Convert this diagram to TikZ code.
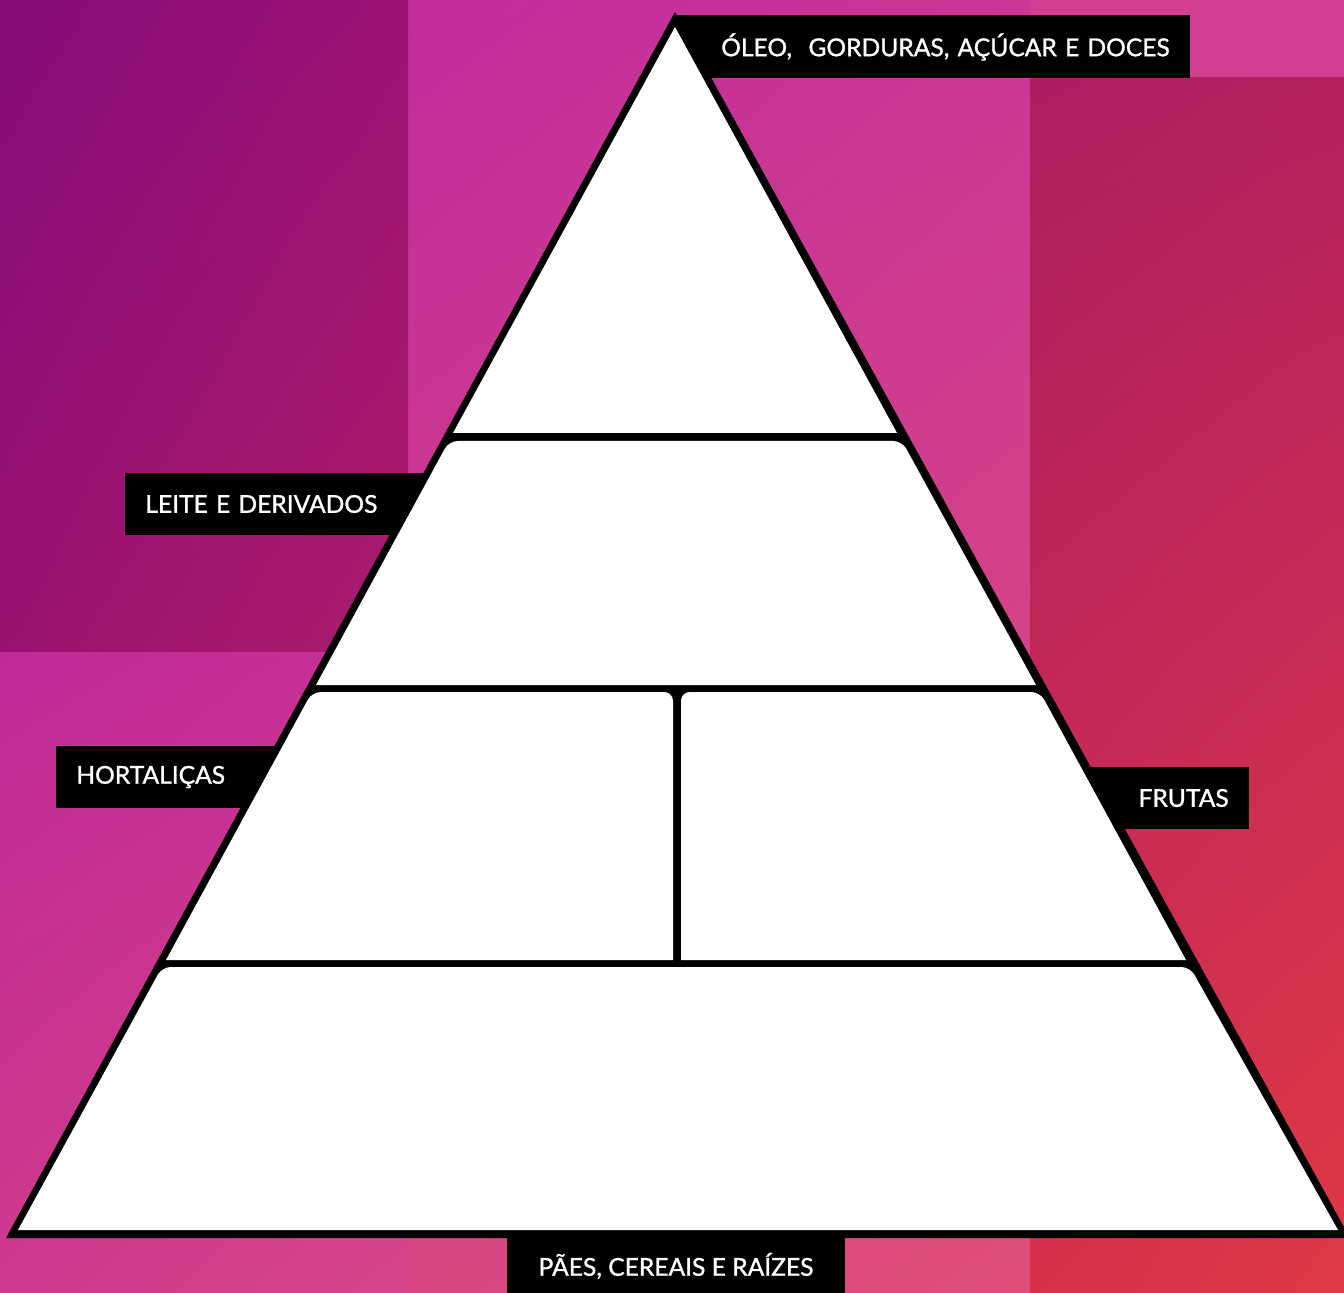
\documentclass[tikz,border=0pt]{standalone}
\usepackage{fontspec}
\setmainfont{Lato}
\newfontfamily\tagfont{Lato}[FakeBold=1.2]
\usetikzlibrary{shadings}
\definecolor{plumA}{HTML}{880C7A}
\definecolor{plumB}{HTML}{9C1274}
\definecolor{plumC}{HTML}{9A1270}
\definecolor{plumD}{HTML}{AC1C6C}
\definecolor{magA}{HTML}{BC26A0}
\definecolor{magB}{HTML}{CE3C92}
\definecolor{magC}{HTML}{D4408A}
\definecolor{magD}{HTML}{E45272}
\definecolor{lowA}{HTML}{C02A98}
\definecolor{lowB}{HTML}{C83094}
\definecolor{lowC}{HTML}{CE3A8C}
\definecolor{lowD}{HTML}{D6468A}
\definecolor{crimA}{HTML}{AE1E62}
\definecolor{crimB}{HTML}{B62060}
\definecolor{crimC}{HTML}{D6304C}
\definecolor{crimD}{HTML}{E03A46}
\definecolor{stripR}{HTML}{D23E90}
\tikzset{
  tag/.style={fill=black, text=white, font=\tagfont\fontsize{14}{16}\selectfont, minimum height=1.26cm, inner xsep=0.4cm, inner ysep=0pt},
  tier/.style={fill=white},
}

\begin{document}
\begin{tikzpicture}[x=0.02cm, y=-0.02cm]
  \useasboundingbox (0,0) rectangle (1344,1293);
  % background panels
  \shade[upper left=magA, upper right=magB, lower left=magC, lower right=magD] (0,0) rectangle (1344,1293);
  \shade[upper left=plumA, upper right=plumB, lower left=plumC, lower right=plumD] (0,0) rectangle (408,652);
  \shade[upper left=lowA, upper right=lowB, lower left=lowC, lower right=lowD] (0,652) rectangle (408,1293);
  \fill[stripR] (1030,0) rectangle (1344,78);
  \shade[upper left=crimA, upper right=crimB, lower left=crimC, lower right=crimD] (1030,78) rectangle (1344,1293);
  % labels (behind the pyramid)
  \node[tag, anchor=east, text width=9.48cm, align=right] (oleo) at (1190,47) {ÓLEO,\ \ GORDURAS, AÇÚCAR E DOCES};
  \node[tag, anchor=west, text width=5.6cm, align=left] (leite) at (125,504) {LEITE E DERIVADOS};
  \node[tag, anchor=west, text width=3.96cm, align=left] (hort) at (56,777) {HORTALIÇAS};
  \node[tag, anchor=east, text width=2.76cm, align=right] (frutas) at (1249,798) {FRUTAS};
  \node[tag, minimum width=6.76cm] (paes) at (676,1266) {PÃES, CEREAIS E RAÍZES};
  % pyramid
  \fill[black] (675,12) -- (6,1238) -- (1350,1238) -- cycle;
  \fill[tier] (675,27) -- (453,433) -- (897,433) -- cycle;
  \fill[tier] (316,685) [rounded corners=5pt] -- (449,441) -- (902,441) [sharp corners] -- (1036,685) -- cycle;
  \fill[tier] (166,960) [rounded corners=5pt] -- (312,692) -- (673,692) [sharp corners] -- (673,960) -- cycle;
  \fill[tier] (681,960) [rounded corners=5pt] -- (681,692) -- (1040,692) [sharp corners] -- (1186,960) -- cycle;
  \fill[tier] (18,1230) [rounded corners=5pt] -- (162,967) -- (1190,967) [sharp corners] -- (1338,1230) -- cycle;
\end{tikzpicture}
\end{document}
